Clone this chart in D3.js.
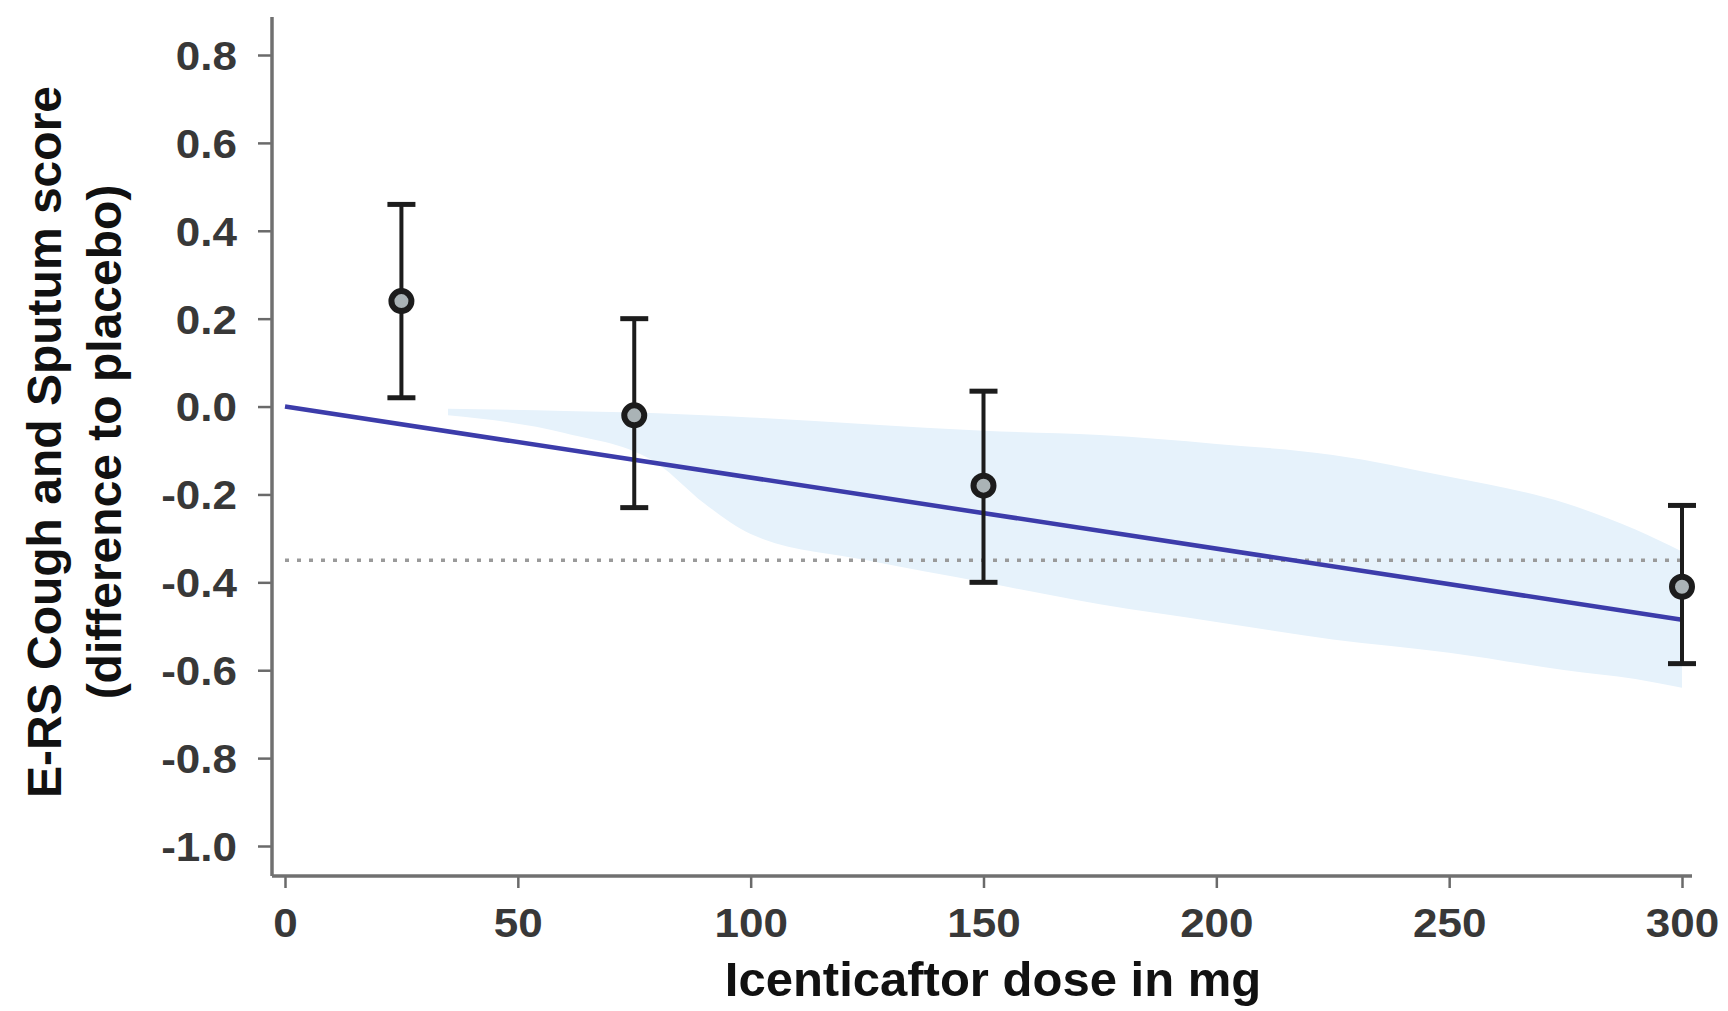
<!DOCTYPE html>
<html>
<head>
<meta charset="utf-8">
<script src="https://cdn.jsdelivr.net/npm/d3@7"></script>
<style>
  html, body { margin: 0; padding: 0; background: #fff; }
  svg { display: block; }
</style>
</head>
<body>
<svg id="chart" width="1728" height="1011"></svg>
<script>
// ---- data ----
const doses = [25, 75, 150, 300];
const means = [0.24, -0.02, -0.18, -0.41];
const ciLow = [0.02, -0.23, -0.40, -0.585];
const ciHigh = [0.46, 0.20, 0.035, -0.225];

const fitDoses = [0, 300];
const fitValues = [0, -0.485];

const bandDoses = [35, 60, 80, 90, 100, 125, 150, 175, 200, 225, 250, 275, 290, 300];
const bandUpper = [-0.005, -0.01, -0.015, -0.02, -0.025, -0.04, -0.055, -0.065, -0.085, -0.11, -0.16, -0.22, -0.28, -0.33];
const bandLower = [-0.02, -0.06, -0.13, -0.22, -0.29, -0.35, -0.40, -0.45, -0.49, -0.53, -0.56, -0.60, -0.62, -0.64];

const refLineValue = -0.35;
const refLineDoses = [0, 300];

const xTicks = [0, 50, 100, 150, 200, 250, 300];
const yTicks = [0.8, 0.6, 0.4, 0.2, 0.0, -0.2, -0.4, -0.6, -0.8, -1.0];

const xTitle = "Icenticaftor dose in mg";
const yTitle1 = "E-RS Cough and Sputum score";
const yTitle2 = "(difference to placebo)";

// ---- layout ----
const svg = d3.select("#chart");
const axisX = 272, axisY = 876;
const x = d3.scaleLinear().domain([0, 300]).range([285, 1682]);
const y = d3.scaleLinear().domain([-1.0, 0.8]).range([846, 55]);

// band
const band = d3.area()
  .x((d, i) => x(bandDoses[i]))
  .y0((d, i) => y(bandLower[i]))
  .y1((d, i) => y(bandUpper[i]))
  .curve(d3.curveMonotoneX);
svg.append("path")
  .datum(bandDoses)
  .attr("d", band)
  .attr("fill", "#e6f2fb");

// dotted reference line
svg.append("line")
  .attr("x1", x(refLineDoses[0])).attr("x2", x(refLineDoses[1]))
  .attr("y1", y(refLineValue)).attr("y2", y(refLineValue))
  .attr("stroke", "#9a9a9a").attr("stroke-width", 3.5)
  .attr("stroke-dasharray", "4,8");

// fit line
const line = d3.line().x((d, i) => x(fitDoses[i])).y((d, i) => y(fitValues[i]));
svg.append("path")
  .datum(fitDoses)
  .attr("d", line)
  .attr("fill", "none")
  .attr("stroke", "#3c3caa")
  .attr("stroke-width", 4.5);

// axes
const yAxis = d3.axisLeft(y).tickValues(yTicks).tickSize(14).tickSizeOuter(0)
  .tickFormat(d3.format(".1f"));
const gy = svg.append("g").attr("transform", `translate(${axisX},0)`).call(yAxis);
gy.select(".domain").remove();
gy.selectAll(".tick line").attr("stroke", "#6a6a6a").attr("stroke-width", 2.5);
gy.selectAll(".tick text")
  .attr("x", 0).attr("dy", "0.36em")
  .attr("transform", "translate(-35,0) scale(1.1,1)")
  .attr("text-anchor", "end")
  .attr("font-family", "Liberation Sans, Arial, sans-serif")
  .attr("font-weight", "bold")
  .attr("font-size", 40)
  .attr("fill", "#383838")
  .text(d => d3.format(".1f")(d).replace("−", "-"));

const xAxis = d3.axisBottom(x).tickValues(xTicks).tickSize(12).tickSizeOuter(0);
const gx = svg.append("g").attr("transform", `translate(0,${axisY})`).call(xAxis);
gx.select(".domain").remove();
gx.selectAll(".tick line").attr("stroke", "#6a6a6a").attr("stroke-width", 2.5);
gx.selectAll(".tick text")
  .attr("y", 0).attr("dy", 0)
  .attr("transform", "translate(0,61) scale(1.1,1)")
  .attr("text-anchor", "middle")
  .attr("font-family", "Liberation Sans, Arial, sans-serif")
  .attr("font-weight", "bold")
  .attr("font-size", 40)
  .attr("fill", "#383838");

// axis lines
svg.append("line").attr("x1", axisX).attr("x2", axisX).attr("y1", 17).attr("y2", axisY)
  .attr("stroke", "#707070").attr("stroke-width", 3.5);
svg.append("line").attr("x1", axisX).attr("x2", 1692).attr("y1", axisY).attr("y2", axisY)
  .attr("stroke", "#707070").attr("stroke-width", 3.5);

// error bars
const eb = svg.append("g");
const capW = 14;
doses.forEach((d, i) => {
  const cx = x(d);
  eb.append("line").attr("x1", cx).attr("x2", cx)
    .attr("y1", y(ciLow[i])).attr("y2", y(ciHigh[i]))
    .attr("stroke", "#1c1c1c").attr("stroke-width", 4);
  [ciLow[i], ciHigh[i]].forEach(v => {
    eb.append("line").attr("x1", cx - capW).attr("x2", cx + capW)
      .attr("y1", y(v)).attr("y2", y(v))
      .attr("stroke", "#1c1c1c").attr("stroke-width", 5);
  });
  eb.append("circle")
    .attr("cx", cx).attr("cy", y(means[i])).attr("r", 10)
    .attr("fill", "#aab3b6")
    .attr("stroke", "#1c1c1c")
    .attr("stroke-width", 6);
});

// titles
svg.append("text")
  .attr("x", 993).attr("y", 996)
  .attr("text-anchor", "middle")
  .attr("font-family", "Liberation Sans, Arial, sans-serif")
  .attr("font-weight", "bold")
  .attr("font-size", 49)
  .attr("fill", "#111")
  .text(xTitle);

const yt = svg.append("text")
  .attr("transform", "translate(0,442) rotate(-90)")
  .attr("text-anchor", "middle")
  .attr("font-family", "Liberation Sans, Arial, sans-serif")
  .attr("font-weight", "bold")
  .attr("font-size", 48)
  .attr("fill", "#111");
yt.append("tspan").attr("x", 0).attr("y", 61).text(yTitle1);
yt.append("tspan").attr("x", 0).attr("y", 121).text(yTitle2);
</script>
</body>
</html>
